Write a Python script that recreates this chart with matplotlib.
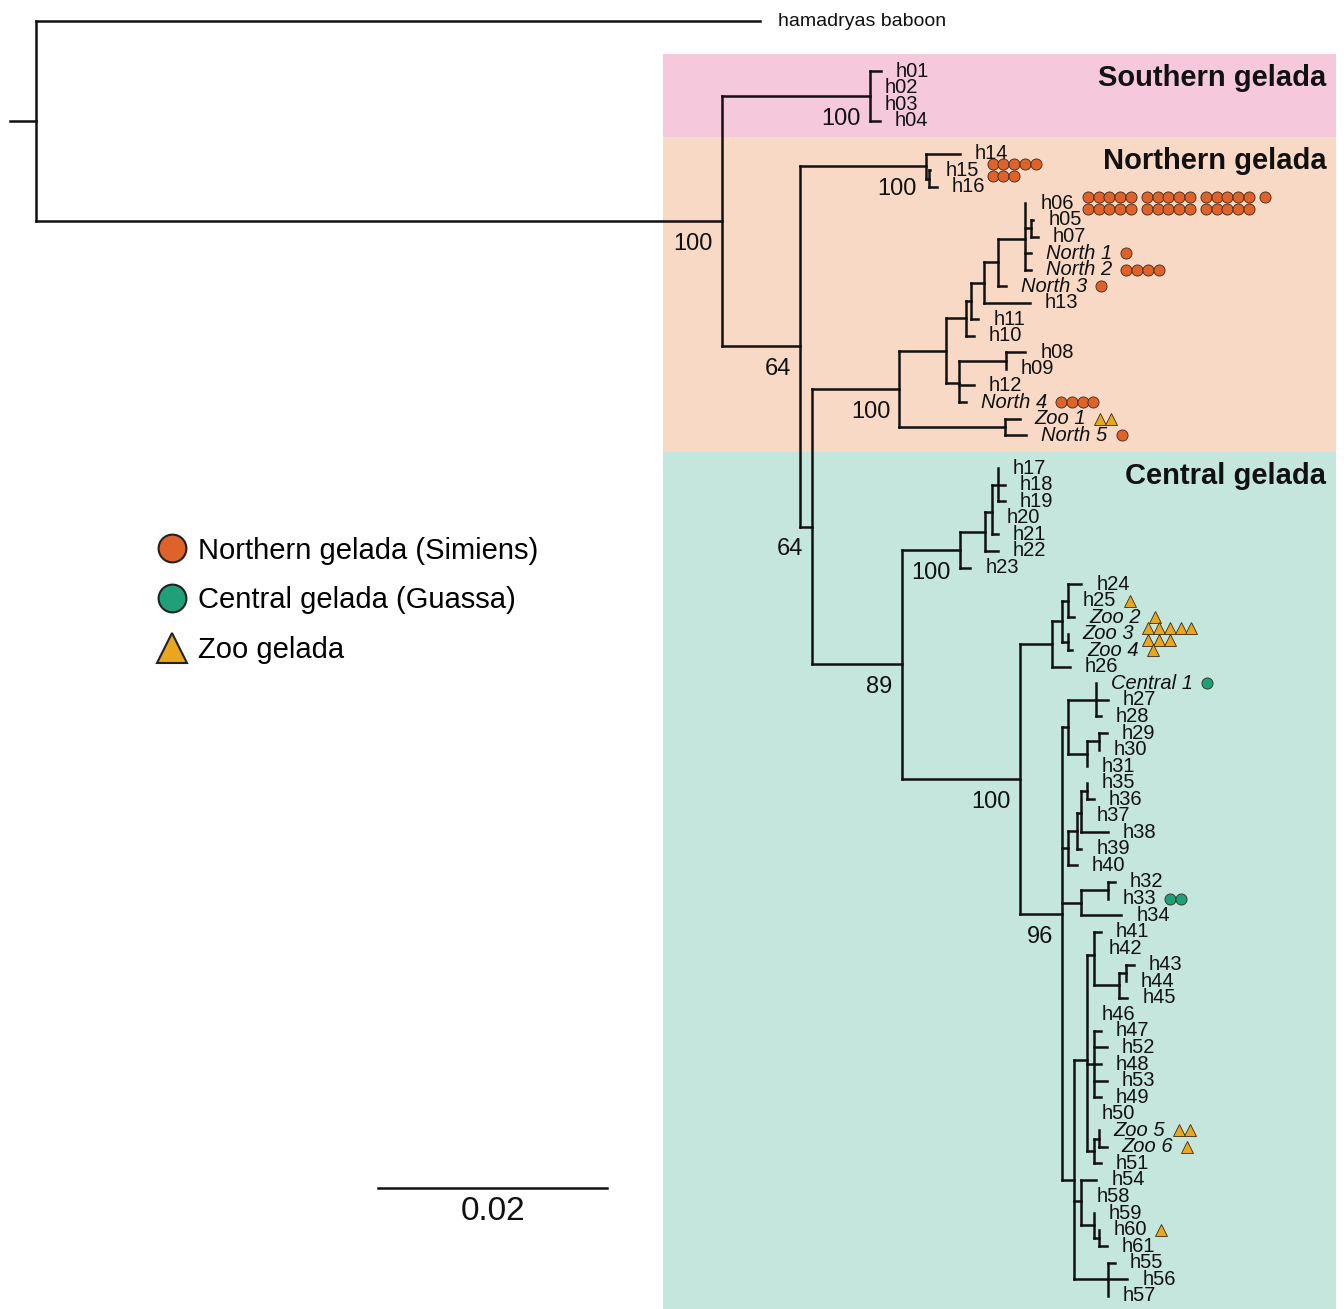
import re
import matplotlib
matplotlib.use("Agg")
import matplotlib.pyplot as plt
from matplotlib.lines import Line2D
from matplotlib.patches import Rectangle
from matplotlib.collections import LineCollection

plt.rcParams['font.family'] = ['Liberation Sans', 'DejaVu Sans']

# ------------------------------------------------------------------ data
# Newick pieces: branch lengths (substitutions/site); internal labels = bootstrap support
outgroup = "hamadryas_baboon:0.0632"
southern = "(h01:0.0010,h02:0,h03:0,h04:0.0009)100:0.0129"
northern_basal = "(h14:0.0030,(h15:0.0001,h16:0.0007):0.0003)100:0.0110"
northern_main = ("(((((((h06:0,(h05:0.0002,h07:0.0006):0.0005,North_1:0.0005,North_2:0.0005):0.0024,"
                 "North_3:0.0007):0.0012,h13:0.0040):0.0011,h11:0.0006):0.0005,h10:0.0007):0.0017,"
                 "((h08:0.0017,h09:0):0.0041,h12:0.0013,North_4:0.0006):0.0011):0.0041,"
                 "(Zoo_1:0.0013,North_5:0.0019):0.0092)100:0.0076")
central_a = "((((h17:0,h18:0.0006,h19:0.0006):0.0005,h20:0,h21:0.0005):0.0006,h22:0.0011):0.0022,h23:0.0009)100:0.0051"
central_b = "(((h24:0.0012,h25:0,Zoo_2:0.0006):0.0005,(Zoo_3:0,Zoo_4:0.0004):0.0005):0.0009,h26:0.0016):0.0028"
central_c = "((Central_1:0,h27:0.0010,h28:0.0004):0.0025,((h29:0.0007,h30:0):0.0010,h31:0):0.0017):0.0005"
central_d = "((((h35:0,h36:0.0006):0.0005,h37:0,h38:0.0023):0.0004,h39:0.0004):0.0008,h40:0.0008):0.0005"
central_e = "((h32:0.0006,h33:0):0.0023,h34:0.0035):0.0017"
central_f = ("(("
             "(h41:0.0006,h42:0,((h43:0.0007,h44:0):0.0006,h45:0.0007):0.0022):0.0006,"
             "h46:0,"
             "(h47:0.0006,h52:0.0011,h48:0.0006,h53:0.0011,h49:0.0006):0.0006,"
             "h50:0,"
             "((Zoo_5:0,Zoo_6:0.0007):0.0004,h51:0.0006):0.0006"
             "):0.0011,"
             "(h54:0.0013,h58:0,(h59:0,(h60:0,h61:0.0007):0.0004):0.0011):0.0006,"
             "(h55:0.0006,h56:0.0017,h57:0):0.0029"
             "):0.0011")
root_stem = 0.0023

tree_newick = (f"({outgroup},({southern},({northern_basal},({northern_main},"
               f"({central_a},({central_b},({central_c},{central_d},{central_e},{central_f})96:0.0037)100:0.0103)89:0.0078)"
               f"64:0.0011)64:0.0068)100:0.0599);")

# haplotype sample counts
north_tips = ["h15", "h06", "North 1", "North 2", "North 3", "North 4", "North 5"]
north_counts = [8, 31, 1, 4, 1, 4, 1]
central_tips = ["Central 1", "h33"]
central_counts = [1, 2]
zoo_tips = ["Zoo 1", "h25", "Zoo 2", "Zoo 3", "Zoo 4", "Zoo 5", "Zoo 6", "h60"]
zoo_counts = [2, 1, 1, 8, 1, 2, 1, 1]

# clade bands
band_names = ["Southern gelada", "Northern gelada", "Central gelada"]
band_first = ["h01", "h14", "h17"]
band_last = ["h04", "North 5", "h57"]
band_colors = ["#F6C8DC", "#F8D9C5", "#C5E6DC"]
gap_rows_before = {"h01": 2, "h14": 1, "h17": 1}

legend_labels = ["Northern gelada (Simiens)", "Central gelada (Guassa)", "Zoo gelada"]
scale_length = 0.02

COL_N = "#E0622B"
COL_C = "#20A079"
COL_Z = "#E8A71F"
LINE = "#111111"


# ------------------------------------------------------------------ newick parsing / layout
def parse_newick(s):
    s = s.strip().rstrip(';')
    pos = 0

    def node():
        nonlocal pos
        nd = {'children': [], 'name': '', 'length': 0.0}
        if s[pos] == '(':
            pos += 1
            while True:
                nd['children'].append(node())
                if s[pos] == ',':
                    pos += 1
                    continue
                if s[pos] == ')':
                    pos += 1
                    break
        m = re.match(r"[^:,();]*", s[pos:])
        nd['name'] = m.group(0).replace('_', ' ')
        pos += len(m.group(0))
        if pos < len(s) and s[pos] == ':':
            pos += 1
            m = re.match(r"[0-9.eE+-]+", s[pos:])
            nd['length'] = float(m.group(0))
            pos += len(m.group(0))
        return nd
    return node()


root = parse_newick(tree_newick)


def set_x(nd, x0):
    nd['x'] = x0 + nd['length']
    for c in nd['children']:
        set_x(c, nd['x'])


set_x(root, 0.0)
row_counter = [-1]
tips = []


def set_y(nd):
    if not nd['children']:
        row_counter[0] += 1 + gap_rows_before.get(nd['name'], 0)
        nd['y'] = row_counter[0]
        tips.append(nd)
    else:
        for c in nd['children']:
            set_y(c)
        nd['y'] = sum(c['y'] for c in nd['children']) / len(nd['children'])


set_y(root)
tip_y = {t['name']: t['y'] for t in tips}

# ------------------------------------------------------------------ figure
fig = plt.figure(figsize=(13.44, 13.09), dpi=100)
ax = fig.add_axes([0, 0, 1, 1])
ax.set_xlim(-0.003144, 0.11424)
ax.set_ylim(77.8, -1.29)
ax.axis('off')

# bands
band_x0, band_x1 = 0.0548, 0.1135
for name, f, l, col in zip(band_names, band_first, band_last, band_colors):
    top = tip_y[f] - 1
    bot = tip_y[l] + 1
    ax.add_patch(Rectangle((band_x0, top), band_x1 - band_x0, bot - top,
                           facecolor=col, edgecolor='none', zorder=0))
    ax.text(band_x1 - 0.0008, top + 1.45, name, ha='right', va='center',
            fontsize=21, fontweight='bold', color='#111111', zorder=3)

# tree segments
segs = []


def collect(nd):
    if nd['children']:
        ys = [c['y'] for c in nd['children']]
        segs.append([(nd['x'], min(ys)), (nd['x'], max(ys))])
        for c in nd['children']:
            if c['x'] > nd['x']:
                segs.append([(nd['x'], c['y']), (c['x'], c['y'])])
            collect(c)


collect(root)
segs.append([(-root_stem, root['y']), (0, root['y'])])
lc = LineCollection(segs, colors=LINE, linewidths=1.8, capstyle='projecting', zorder=2)
ax.add_collection(lc)


# bootstrap labels
def support(nd):
    for c in nd['children']:
        if c['children'] and c['name']:
            ax.annotate(c['name'], (c['x'], c['y']), xytext=(-6.5, -16.5),
                        textcoords='offset points', ha='right', va='center',
                        fontsize=17, color='#111111', zorder=3)
        support(c)


support(root)

# tip labels
label_artists = {}
for t in tips:
    nm = t['name']
    if nm == 'hamadryas baboon':
        a = ax.annotate(nm, (t['x'], t['y']), xytext=(13, 0), textcoords='offset points',
                        ha='left', va='center', fontsize=14, color='#111111')
    else:
        italic = nm.split()[0] in ('North', 'Zoo', 'Central')
        a = ax.annotate(nm, (t['x'], t['y']), xytext=(10.8, 0), textcoords='offset points',
                        ha='left', va='center', fontsize=14.5, color='#111111',
                        style='italic' if italic else 'normal')
    label_artists[nm] = a

fig.canvas.draw()
renderer = fig.canvas.get_renderer()
inv = ax.transData.inverted()


def place_markers(names, counts, marker, color):
    for nm, n in zip(names, counts):
        bb = label_artists[nm].get_window_extent(renderer)
        _, yd = ax.transData.transform((0, tip_y[nm]))
        pts = []
        for i in range(n):
            block, r = divmod(i, 10)
            row, col = divmod(r, 5)
            xd = bb.x1 + 14 + (block * 5 + col) * 10.8 + block * 5
            if n > 5:
                ydd = yd + (6 if row == 0 else -6)
            else:
                ydd = yd
            pts.append((xd, ydd))
        dp = inv.transform(pts)
        ax.plot(dp[:, 0], dp[:, 1], ls='none', marker=marker, ms=8 if marker == 'o' else 8.5,
                mfc=color, mec='#3a2a1a', mew=0.6, zorder=4)


place_markers(north_tips, north_counts, 'o', COL_N)
place_markers(central_tips, central_counts, 'o', COL_C)
place_markers(zoo_tips, zoo_counts, '^', COL_Z)

# legend
handles = [Line2D([], [], ls='none', marker='o', ms=20, mfc=COL_N, mec='#222222', mew=1.5),
           Line2D([], [], ls='none', marker='o', ms=20, mfc=COL_C, mec='#222222', mew=1.5),
           Line2D([], [], ls='none', marker='^', ms=21, mfc=COL_Z, mec='#222222', mew=1.5)]
ax.legend(handles, legend_labels, loc='upper left', bbox_to_anchor=(0.117, 0.590),
          frameon=False, fontsize=21, handlelength=1.0, handletextpad=0.4,
          labelspacing=0.74, borderpad=0, borderaxespad=0)

# scale bar
sb_x0, sb_y = 0.0299, 70.5
ax.plot([sb_x0, sb_x0 + scale_length], [sb_y, sb_y], color=LINE, lw=1.8)
ax.text(sb_x0 + scale_length / 2, sb_y + 1.4, f"{scale_length:g}", ha='center', va='center',
        fontsize=24, color='#111111')

fig.savefig("out.png", dpi=100)
